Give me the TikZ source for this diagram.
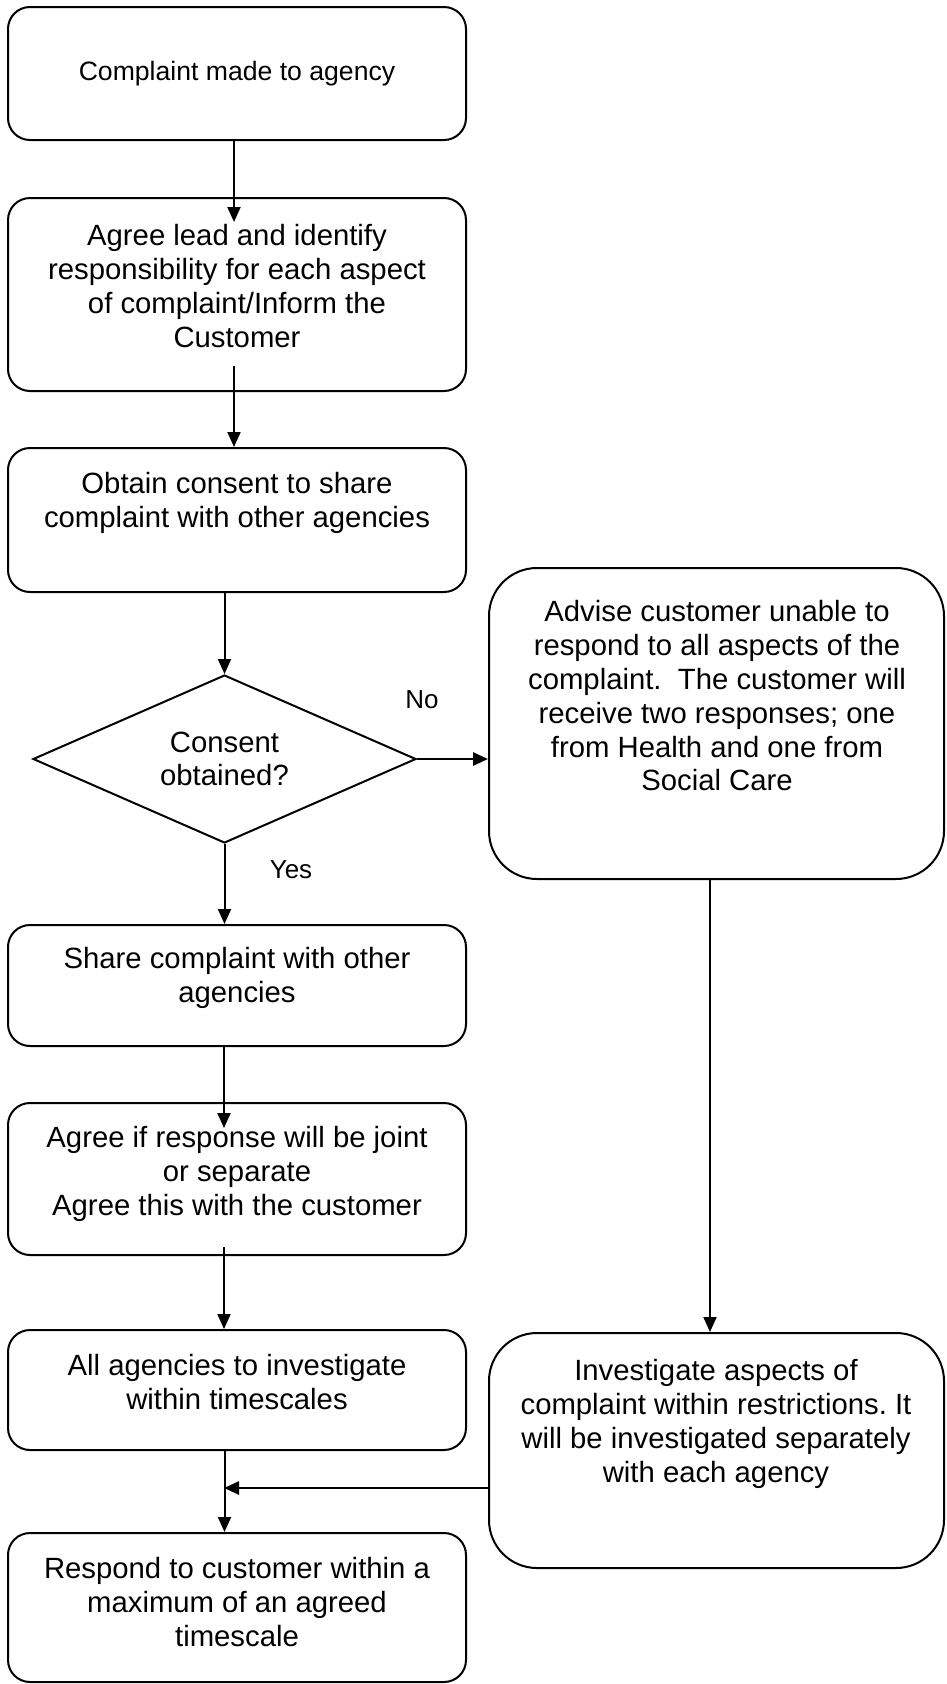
\documentclass[tikz,border=0pt]{standalone}
\usepackage{fontspec}
\setmainfont{Liberation Sans}
\usetikzlibrary{shapes.geometric,arrows.meta}
\frenchspacing
\begin{document}
\begin{tikzpicture}[x=1pt,y=-1pt,
  box/.style={draw, line width=2pt, rounded corners=22pt, minimum width=458pt, inner sep=0pt},
  bigbox/.style={draw, line width=2pt, rounded corners=48pt, minimum width=455pt, inner sep=0pt},
  txt/.style={align=center, font=\fontsize{29.3pt}{33.8pt}\selectfont, inner sep=0pt},
  arr/.style={line width=2pt, -{Triangle[length=15pt,width=13pt]}},
  lbl/.style={font=\fontsize{26pt}{30pt}\selectfont, inner sep=0pt}]
\useasboundingbox (0,0) rectangle (946,1684);

% boxes
\node[box, minimum height=133pt] (b1) at (237,73.5) {};
\node[box, minimum height=193pt] (b2) at (237,294.5) {};
\node[box, minimum height=144pt] (b3) at (237,520) {};
\node[draw, line width=2pt, diamond, minimum width=383pt, minimum height=168pt, aspect=2.28, inner sep=0pt,
      align=center, font=\fontsize{29.3pt}{33.8pt}\selectfont] (d) at (224.5,759) {Consent\\obtained?};
\node[bigbox, minimum height=311pt] (r1) at (716.5,723.5) {};
\node[box, minimum height=121pt] (s) at (237,985.5) {};
\node[box, minimum height=152pt] (ag) at (237,1179) {};
\node[box, minimum height=120pt] (al) at (237,1390) {};
\node[bigbox, minimum height=235pt] (r2) at (716.5,1450.5) {};
\node[box, minimum height=149pt] (re) at (237,1607.5) {};

% texts
\node[txt, font=\fontsize{26.6pt}{31pt}\selectfont] (t1) at (237,74) {Complaint made to agency};
\node[txt] (t2) at (237,286) {Agree lead and identify\\responsibility for each aspect\\of complaint/Inform the\\Customer};
\node[txt] (t3) at (237,503) {Obtain consent to share\\complaint with other agencies};
\node[txt] (tr1) at (717,696) {Advise customer unable to\\respond to all aspects of the\\complaint.\ \ The customer will\\receive two responses; one\\from Health and one from\\Social Care};
\node[txt] (ts) at (237,978) {Share complaint with other\\agencies};
\node[txt] (tag) at (237,1174) {Agree if response will be joint\\or separate\\Agree this with the customer};
\node[txt] (tal) at (237,1382) {All agencies to investigate\\within timescales};
\node[txt] (tr2) at (716,1424) {Investigate aspects of\\complaint within restrictions. It\\will be investigated separately\\with each agency};
\node[txt] (tre) at (237,1602) {Respond to customer within a\\maximum of an agreed\\timescale};

% labels
\node[lbl] (no) at (422,700) {No};
\node[lbl] (yes) at (291,870) {Yes};

% connectors
\coordinate (c1) at (234,222);
\draw[arr] (b1.south -| c1) -- (c1);
\coordinate (c2) at (234,366);
\draw[arr] (c2) -- (c2 |- b3.north);
\draw[arr] (d.north |- b3.south) -- (d.north);
\draw[arr, line width=2.5pt] (d.east) -- (r1.west |- d.east);
\draw[arr] (d.south) -- (d.south |- s.north);
\coordinate (c6) at (224,1128);
\draw[arr] (c6 |- s.south) -- (c6);
\coordinate (c7) at (224,1247);
\draw[arr] (c7) -- (c7 |- al.north);
\coordinate (x8) at (710,0);
\draw[arr] (x8 |- r1.south) -- (x8 |- r2.north);
\draw[arr] (d.south |- al.south) -- (d.south |- re.north);
\coordinate (j) at (224,1488);
\draw[arr, line width=2.5pt] (r2.west |- j) -- (j);
\end{tikzpicture}
\end{document}
